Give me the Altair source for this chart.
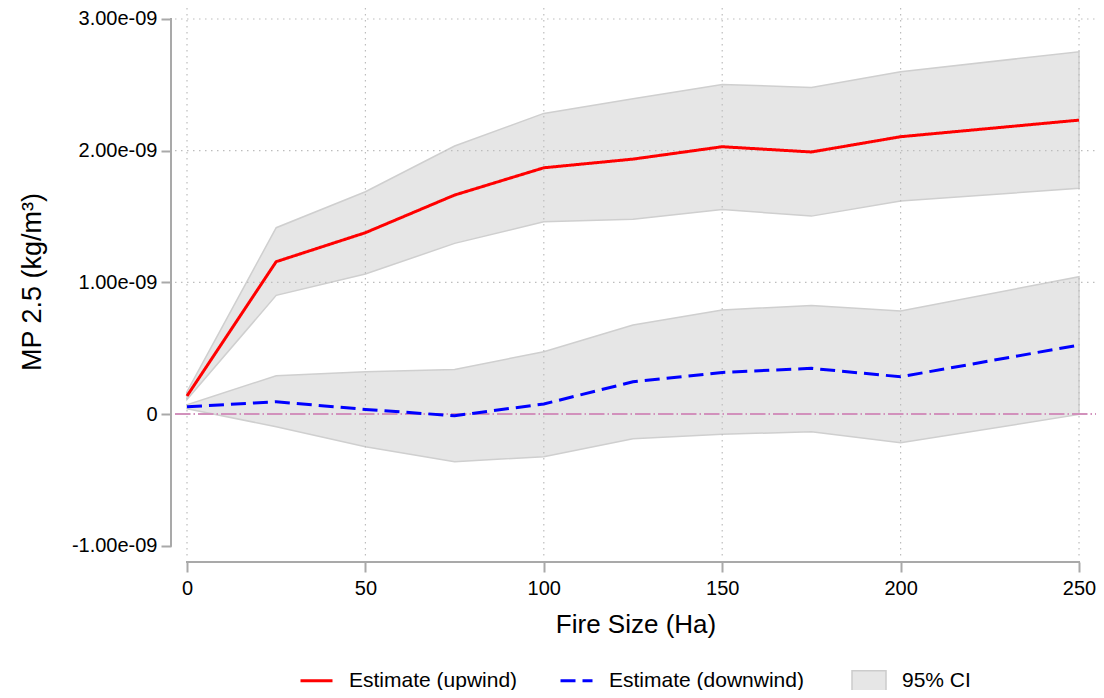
import json
import altair as alt
import pandas as pd

# ---------------- data ----------------
fire_size = [0, 25, 50, 75, 100, 125, 150, 175, 200, 250]

up_est = [0.137e-9, 1.157e-9, 1.377e-9, 1.663e-9, 1.870e-9, 1.936e-9, 2.030e-9, 1.990e-9, 2.106e-9, 2.232e-9]
up_hi = [0.170e-9, 1.415e-9, 1.688e-9, 2.035e-9, 2.283e-9, 2.394e-9, 2.503e-9, 2.480e-9, 2.599e-9, 2.751e-9]
up_lo = [0.110e-9, 0.901e-9, 1.063e-9, 1.296e-9, 1.460e-9, 1.480e-9, 1.554e-9, 1.503e-9, 1.617e-9, 1.714e-9]

down_est = [0.055e-9, 0.093e-9, 0.035e-9, -0.013e-9, 0.076e-9, 0.245e-9, 0.316e-9, 0.347e-9, 0.283e-9, 0.524e-9]
down_hi = [0.070e-9, 0.291e-9, 0.321e-9, 0.339e-9, 0.473e-9, 0.676e-9, 0.790e-9, 0.825e-9, 0.782e-9, 1.043e-9]
down_lo = [0.040e-9, -0.096e-9, -0.248e-9, -0.362e-9, -0.324e-9, -0.187e-9, -0.154e-9, -0.134e-9, -0.219e-9, -0.003e-9]

series_names = ["Estimate (upwind)", "Estimate (downwind)"]
ci_label = "95% CI"

x_ticks = [0, 50, 100, 150, 200, 250]
y_ticks = [-1e-09, 0, 1e-09, 2e-09, 3e-09]
y_tick_labels = ["-1.00e-09", "0", "1.00e-09", "2.00e-09", "3.00e-09"]
y_grid = [1e-09, 2e-09, 3e-09]
ref_line = [0]

x_title = "Fire Size (Ha)"
y_title = "MP 2.5 (kg/m³)"

# ---------------- tables ----------------
rows = []
for name, est, lo, hi in [(series_names[0], up_est, up_lo, up_hi),
                          (series_names[1], down_est, down_lo, down_hi)]:
    for s, e, l, h in zip(fire_size, est, lo, hi):
        rows.append({"size": s, "series": name, "est": e, "lo": l, "hi": h, "ci": ci_label})
df = pd.DataFrame(rows)

xgrid_df = pd.DataFrame({"gx": x_ticks})
ygrid_df = pd.DataFrame({"gy": y_grid})
ref_df = pd.DataFrame({"ref": ref_line})
ydom_df = pd.DataFrame({"y0": [min(y_ticks)], "y1": [max(y_ticks)]})
xdom_df = pd.DataFrame({"x0": [min(x_ticks)], "x1": [max(x_ticks)]})

# ---------------- styling ----------------
FONT = "Liberation Sans, Arial, Helvetica, sans-serif"
W, H = 921, 549
AXC = "#a9a9a9"
GRIDC = "#bdbdbd"

xscale = alt.Scale(domain=[-3.363, 254.76], nice=False, zero=False)
yscale = alt.Scale(domain=[-1.0858e-9, 3.0835e-9], nice=False, zero=False)

label_expr = f"{json.dumps(y_tick_labels)}[indexof({json.dumps(y_ticks)}, datum.value)]"

xaxis = alt.Axis(values=x_ticks, format="d", title=x_title, domain=False, grid=False,
                 offset=5, tickSize=10, tickWidth=2, tickColor=AXC,
                 labelFont=FONT, labelFontSize=20, labelColor="black", labelPadding=6,
                 labelFlush=False,
                 titleFont=FONT, titleFontSize=26, titleFontWeight="normal", titleColor="black",
                 titleY=70, titleBaseline="alphabetic")
yaxis = alt.Axis(values=y_ticks, labelExpr=label_expr, title=y_title, domain=False, grid=False,
                 offset=4, tickSize=10, tickWidth=2, tickColor=AXC,
                 labelFont=FONT, labelFontSize=20, labelColor="black", labelPadding=4,
                 labelFlush=False,
                 titleFont=FONT, titleFontSize=27, titleFontWeight="normal", titleColor="black",
                 titleX=-131, titleY=H / 2 - 1, titleAngle=270, titleBaseline="alphabetic",
                 titleAlign="center")


def X(field):
    return alt.X(field, type="quantitative", scale=xscale, axis=xaxis)


def Y(field):
    return alt.Y(field, type="quantitative", scale=yscale, axis=yaxis)


line_legend = alt.Legend(orient="none", legendX=124, legendY=655, direction="horizontal",
                         title=None, padding=0, symbolType="stroke", symbolSize=1024,
                         symbolStrokeWidth=3, labelFont=FONT, labelFontSize=21,
                         labelColor="black", labelOffset=15, columnPadding=36, labelLimit=400)
ci_legend = alt.Legend(orient="none", legendX=676, legendY=655, direction="horizontal",
                       title=None, padding=0, symbolType="M-1,-0.6L1,-0.6L1,0.6L-1,0.6Z",
                       symbolSize=1156, symbolStrokeColor="#cccccc", symbolStrokeWidth=1.5,
                       labelFont=FONT, labelFontSize=21, labelColor="black", labelOffset=15,
                       labelLimit=400)

band = alt.Chart(df).mark_area(stroke="#cfcfcf", strokeWidth=1.5).encode(
    x=X("size"),
    y=Y("lo"),
    y2=alt.Y2("hi"),
    detail="series:N",
    fill=alt.Fill("ci:N", scale=alt.Scale(domain=[ci_label], range=["#e6e6e6"]), legend=ci_legend),
)

vgrid = alt.Chart(xgrid_df).mark_rule(color=GRIDC, strokeWidth=1.2, strokeDash=[1.5, 4.5]).encode(
    x=X("gx"), y=alt.value(0), y2=alt.value(H)
)
hgrid = alt.Chart(ygrid_df).mark_rule(color=GRIDC, strokeWidth=1.2, strokeDash=[1.5, 4.5]).encode(
    y=Y("gy"), x=alt.value(0), x2=alt.value(W)
)
zero = alt.Chart(ref_df).mark_rule(color="#d291bc", strokeWidth=2, strokeDash=[15.5, 3, 1.5, 3]).encode(
    y=Y("ref"), x=alt.value(0), x2=alt.value(W)
)

lines = alt.Chart(df).mark_line(strokeWidth=3).encode(
    x=X("size"),
    y=Y("est"),
    color=alt.Color("series:N", scale=alt.Scale(domain=series_names, range=["#ff0000", "#0000ff"]),
                    legend=line_legend),
    strokeDash=alt.StrokeDash("series:N", scale=alt.Scale(domain=series_names, range=[[1, 0], [15, 7]]),
                              legend=line_legend),
)

ydom = alt.Chart(ydom_df).mark_rule(color=AXC, strokeWidth=2, strokeCap="square").encode(
    y=Y("y1"), y2=alt.Y2("y0"), x=alt.value(-4)
)
xdom = alt.Chart(xdom_df).mark_rule(color=AXC, strokeWidth=2, strokeCap="square").encode(
    x=X("x0"), x2=alt.X2("x1"), y=alt.value(H + 5)
)

chart = alt.layer(band, vgrid, hgrid, zero, lines, ydom, xdom).properties(
    width=W, height=H,
    autosize=alt.AutoSizeParams(type="none"),
    padding={"left": 167, "top": 0, "right": 0, "bottom": 133},
    background="white",
).configure_view(stroke=None)

chart.save("out.html", embed_options={"renderer": "svg", "actions": False})
